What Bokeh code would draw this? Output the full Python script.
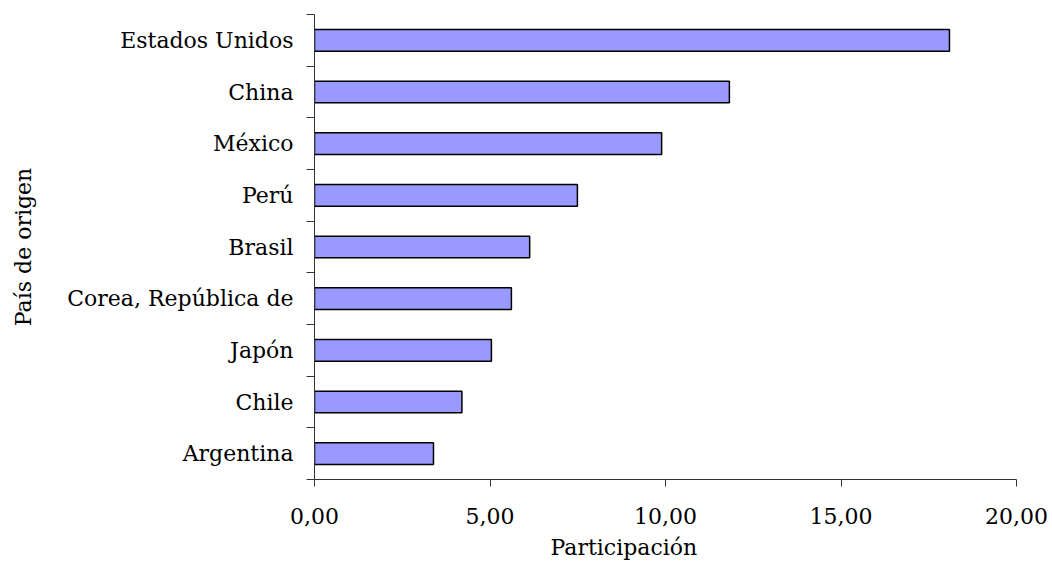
from bokeh.plotting import figure
from bokeh.models import Range1d, FixedTicker, Title, ColumnDataSource
from bokeh.embed import file_html
from bokeh.resources import INLINE

# ---- data ----
paises = ["Estados Unidos", "China", "México", "Perú", "Brasil",
          "Corea, República de", "Japón", "Chile", "Argentina"]
participacion = [18.09, 11.82, 9.89, 7.49, 6.13, 5.61, 5.04, 4.20, 3.39]
x_ticks = [0, 5, 10, 15, 20]
x_tick_labels = ["0,00", "5,00", "10,00", "15,00", "20,00"]
x_title = "Participación"
y_title = "País de origen"

FONT = "DejaVu Serif"
FS = "22px"

n = len(paises)
ypos = [n - i - 0.5 for i in range(n)]
src = ColumnDataSource(dict(y=ypos, right=participacion, pais=paises))

p = figure(width=1052, height=569, x_range=Range1d(0, 20), y_range=Range1d(0, n),
           output_backend="svg", toolbar_location=None,
           min_border_left=314, min_border_right=36, min_border_top=14, min_border_bottom=90)

p.hbar(y="y", right="right", left=0, height=0.42, source=src,
       fill_color="#9999FF", line_color="black", line_width=1.5)

p.xgrid.visible = False
p.ygrid.visible = False
p.outline_line_color = None

# y axis: labels at centres, ticks at boundaries
ya = p.yaxis[0]
ya.ticker = FixedTicker(ticks=ypos, minor_ticks=list(range(n + 1)))
ya.major_label_overrides = {y: name for y, name in zip(ypos, paises)}
ya.major_tick_out = 0
ya.major_tick_in = 0
ya.minor_tick_out = 8
ya.minor_tick_in = 0
ya.major_label_standoff = 13
ya.axis_line_color = "#333333"
ya.minor_tick_line_color = "#333333"
ya.axis_label = y_title
ya.axis_label_standoff = 28
ya.axis_label_text_font = FONT
ya.axis_label_text_font_size = FS
ya.axis_label_text_font_style = "normal"
ya.axis_label_text_color = "black"

xa = p.xaxis[0]
xa.ticker = FixedTicker(ticks=x_ticks, minor_ticks=[])
xa.major_label_overrides = {t: l for t, l in zip(x_ticks, x_tick_labels)}
xa.major_tick_out = 7
xa.major_tick_in = 0
xa.minor_tick_out = 0
xa.minor_tick_in = 0
xa.major_label_standoff = 21
xa.axis_line_color = "#333333"
xa.major_tick_line_color = "#333333"

for ax in (xa, ya):
    ax.major_label_text_font = FONT
    ax.major_label_text_font_size = FS
    ax.major_label_text_color = "black"

p.add_layout(Title(text=x_title, align="left", offset=236, standoff=12,
                   text_font=FONT, text_font_size=FS, text_font_style="normal",
                   text_color="black"), "below")

open("out.html", "w").write(file_html(p, INLINE))
